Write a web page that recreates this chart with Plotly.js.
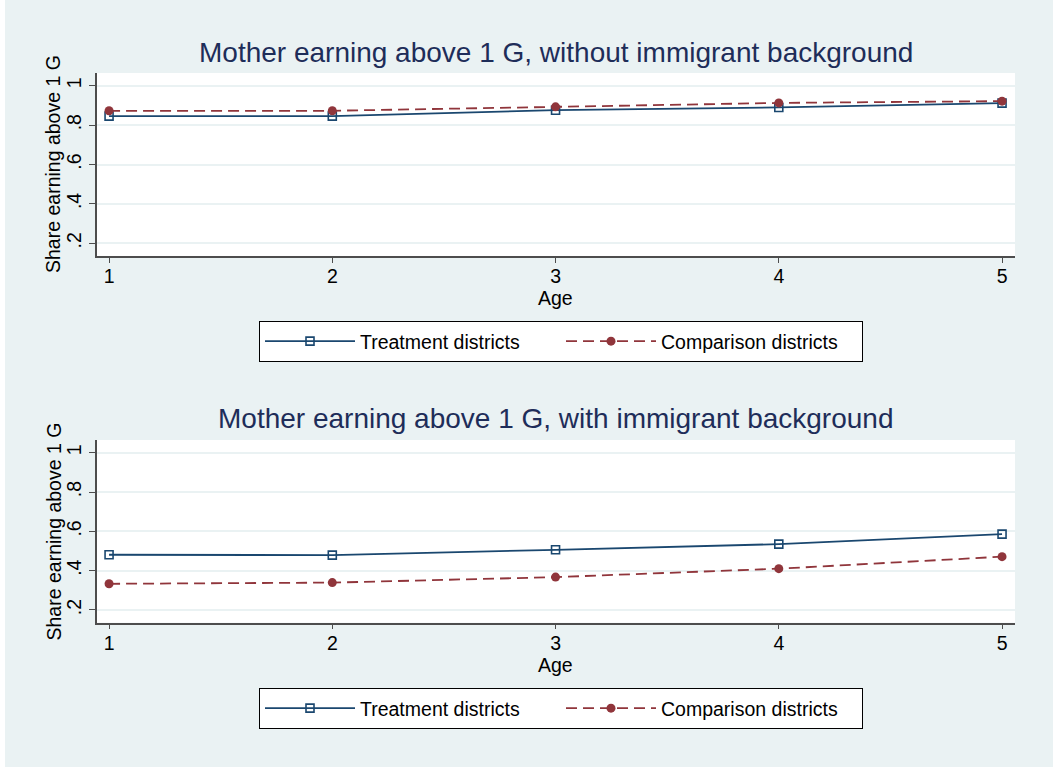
<!DOCTYPE html>
<html>
<head>
<meta charset="utf-8">
<script src="https://cdn.plot.ly/plotly-3.0.1.min.js"></script>
<style>
  html, body { margin: 0; padding: 0; background: #ffffff; }
  #chart { position: absolute; left: 5px; top: 0; width: 1048px; height: 767px; }
</style>
</head>
<body>
<div id="chart"></div>
<script>
// ---- Data ----
const ages = [1, 2, 3, 4, 5];
const treatNoImm = [0.846, 0.846, 0.876, 0.890, 0.912];
const compNoImm  = [0.873, 0.873, 0.893, 0.913, 0.922];
const treatImm   = [0.481, 0.479, 0.506, 0.535, 0.586];
const compImm    = [0.333, 0.339, 0.367, 0.410, 0.471];
const seriesNames = ['Treatment districts', 'Comparison districts'];
const panelTitles = ['Mother earning above 1 G, without immigrant background',
                     'Mother earning above 1 G, with immigrant background'];
const yTickVals = [0.2, 0.4, 0.6, 0.8, 1.0];
const yTickText = ['.2', '.4', '.6', '.8', '1'];
const yTitle = 'Share earning above 1 G';
const xTitle = 'Age';

// ---- Styles ----
const NAVY = '#1a476f';
const MAROON = '#90353b';
const BG = '#eaf2f3';
const FONT = '"Liberation Sans", Arial, Helvetica, sans-serif';
const W = 1048, H = 767;

function treatTrace(y, xa, ya, lg) {
  return {
    x: ages, y: y, xaxis: xa, yaxis: ya, legend: lg,
    name: seriesNames[0], type: 'scatter', mode: 'lines+markers',
    line: { color: NAVY, width: 1.8 },
    marker: { symbol: 'square-open', size: 8, color: NAVY, line: { width: 1.6, color: NAVY } },
    hoverinfo: 'x+y'
  };
}
function compTrace(y, xa, ya, lg) {
  return {
    x: ages, y: y, xaxis: xa, yaxis: ya, legend: lg,
    name: seriesNames[1], type: 'scatter', mode: 'lines+markers',
    line: { color: MAROON, width: 1.8, dash: '11px,6px' },
    marker: { symbol: 'circle', size: 9, color: MAROON },
    hoverinfo: 'x+y'
  };
}

const data = [
  treatTrace(treatNoImm, 'x', 'y', 'legend'),
  compTrace(compNoImm, 'x', 'y', 'legend'),
  treatTrace(treatImm, 'x2', 'y2', 'legend2'),
  compTrace(compImm, 'x2', 'y2', 'legend2')
];

// pixel helpers (div coordinates)
const px = v => v / W;
const py = v => 1 - v / H;

const xDomain = [px(92), px(1010)];
const topDom = [py(256), py(73)];
const botDom = [py(622.7), py(440)];

function xaxisDef(anchor) {
  return {
    domain: xDomain, anchor: anchor, range: [0.946, 5.058],
    tickvals: ages, ticktext: ages.map(String),
    ticks: 'outside', ticklen: 5, tickwidth: 1.3, tickcolor: '#4d4d4d',
    ticklabelstandoff: -3,
    showline: true, linecolor: '#4d4d4d', linewidth: 1.5,
    showgrid: false, zeroline: false,
    tickfont: { family: FONT, size: 19.5, color: '#000' }
  };
}
function yaxisDef(anchor, dom) {
  return {
    domain: dom, anchor: anchor, range: [0.135, 1.065],
    tickvals: yTickVals, ticktext: yTickText, tickangle: -90,
    ticks: 'outside', ticklen: 6, tickwidth: 1.3, tickcolor: '#4d4d4d',
    showline: true, linecolor: '#4d4d4d', linewidth: 1.5,
    showgrid: true, gridcolor: BG, gridwidth: 2, zeroline: false,
    tickfont: { family: FONT, size: 19.5, color: '#000' }
  };
}
function legendDef(yTop) {
  return {
    orientation: 'h', x: px(556), xanchor: 'center', y: yTop, yanchor: 'top',
    bgcolor: '#ffffff', bordercolor: '#000000', borderwidth: 1,
    font: { family: FONT, size: 19.5, color: '#000' },
    itemwidth: 90, entrywidth: 196, entrywidthmode: 'pixels',
    itemclick: false, itemdoubleclick: false
  };
}

const layout = {
  width: W, height: H,
  margin: { l: 0, r: 0, t: 0, b: 0 },
  paper_bgcolor: BG, plot_bgcolor: '#ffffff',
  font: { family: FONT, color: '#000' },
  showlegend: true,
  xaxis: xaxisDef('y'),
  yaxis: yaxisDef('x', topDom),
  xaxis2: xaxisDef('y2'),
  yaxis2: yaxisDef('x2', botDom),
  legend: legendDef(py(321)),
  legend2: legendDef(py(688)),
  annotations: [
    { text: panelTitles[0], xref: 'paper', yref: 'paper', x: px(551), y: py(52),
      xanchor: 'center', yanchor: 'middle', showarrow: false,
      font: { family: FONT, size: 28, color: '#1e2d59' } },
    { text: panelTitles[1], xref: 'paper', yref: 'paper', x: px(550), y: py(418),
      xanchor: 'center', yanchor: 'middle', showarrow: false,
      font: { family: FONT, size: 28, color: '#1e2d59' } },
    { text: yTitle, xref: 'paper', yref: 'paper', x: px(48), y: py(164),
      xanchor: 'center', yanchor: 'middle', textangle: -90, showarrow: false,
      font: { family: FONT, size: 19.5, color: '#000' } },
    { text: yTitle, xref: 'paper', yref: 'paper', x: px(48), y: py(531.5),
      xanchor: 'center', yanchor: 'middle', textangle: -90, showarrow: false,
      font: { family: FONT, size: 19.5, color: '#000' } },
    { text: xTitle, xref: 'x', yref: 'paper', x: 3, y: py(298),
      xanchor: 'center', yanchor: 'middle', showarrow: false,
      font: { family: FONT, size: 19.5, color: '#000' } },
    { text: xTitle, xref: 'x2', yref: 'paper', x: 3, y: py(665),
      xanchor: 'center', yanchor: 'middle', showarrow: false,
      font: { family: FONT, size: 19.5, color: '#000' } }
  ]
};

Plotly.newPlot('chart', data, layout, { displayModeBar: false, staticPlot: false });
</script>
</body>
</html>
